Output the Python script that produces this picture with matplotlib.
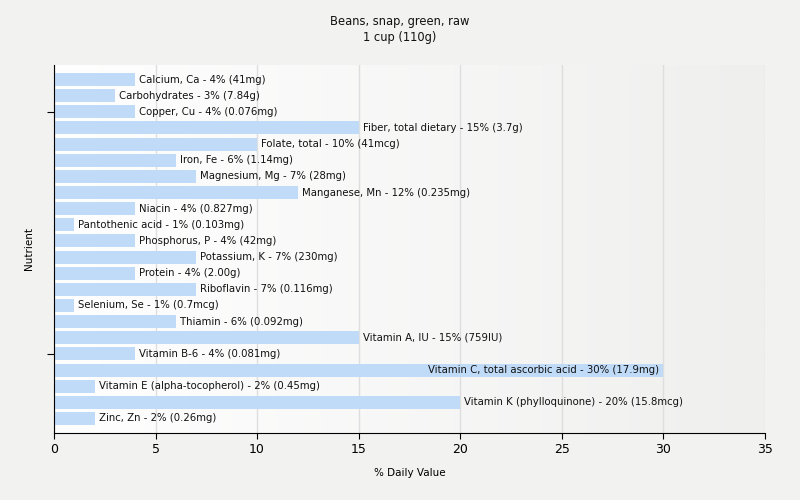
import numpy as np
import matplotlib.pyplot as plt
from matplotlib.colors import LinearSegmentedColormap

nutrients = ["Calcium, Ca", "Carbohydrates", "Copper, Cu", "Fiber, total dietary",
             "Folate, total", "Iron, Fe", "Magnesium, Mg", "Manganese, Mn", "Niacin",
             "Pantothenic acid", "Phosphorus, P", "Potassium, K", "Protein", "Riboflavin",
             "Selenium, Se", "Thiamin", "Vitamin A, IU", "Vitamin B-6",
             "Vitamin C, total ascorbic acid", "Vitamin E (alpha-tocopherol)",
             "Vitamin K (phylloquinone)", "Zinc, Zn"]
dv = [4, 3, 4, 15, 10, 6, 7, 12, 4, 1, 4, 7, 4, 7, 1, 6, 15, 4, 30, 2, 20, 2]
amounts = ["41mg", "7.84g", "0.076mg", "3.7g", "41mcg", "1.14mg", "28mg", "0.235mg",
           "0.827mg", "0.103mg", "42mg", "230mg", "2.00g", "0.116mg", "0.7mcg",
           "0.092mg", "759IU", "0.081mg", "17.9mg", "0.45mg", "15.8mcg", "0.26mg"]

fig = plt.figure(figsize=(8, 5), dpi=100, facecolor="#f2f2f1")
ax = fig.add_axes([0.0675, 0.134, 0.8885, 0.736])

# plot area gradient
grad = np.linspace(0, 1, 256).reshape(1, -1)
cmap = LinearSegmentedColormap.from_list("g", ["#ffffff", "#efefee"])
ax.imshow(grad, extent=[0, 35, 21.9, -0.9], aspect="auto", cmap=cmap, zorder=0)

y = np.arange(len(nutrients))
ax.barh(y, dv, height=0.8, color="#c0dbf8", zorder=2)

for i in range(len(nutrients)):
    label = f"{nutrients[i]} - {dv[i]}% ({amounts[i]})"
    if dv[i] >= 30:
        ax.text(dv[i] - 0.2, y[i], label, ha="right", va="center", fontsize=7.3, color="#111111", zorder=3)
    else:
        ax.text(dv[i] + 0.2, y[i], label, ha="left", va="center", fontsize=7.3, color="#111111", zorder=3)

ax.set_xlim(0, 35)
ax.set_ylim(21.9, -0.9)
ax.set_xticks(range(0, 36, 5))
ax.set_yticks([2, 17])
ax.set_yticklabels([])
ax.grid(axis="x", color="#dedede", linewidth=1, zorder=1)
ax.set_axisbelow(True)
for s in ["top", "right"]:
    ax.spines[s].set_visible(False)
ax.tick_params(axis="x", labelsize=9, length=4)
ax.tick_params(axis="y", length=5)
ax.set_xlabel("% Daily Value", fontsize=7.5, labelpad=8)
ax.set_ylabel("Nutrient", fontsize=7.5, labelpad=6)
fig.text(0.5, 0.97, "Beans, snap, green, raw\n1 cup (110g)", ha="center", va="top",
         fontsize=8.3, linespacing=1.35, color="#111111")

fig.savefig("out.png", dpi=100, facecolor=fig.get_facecolor())
